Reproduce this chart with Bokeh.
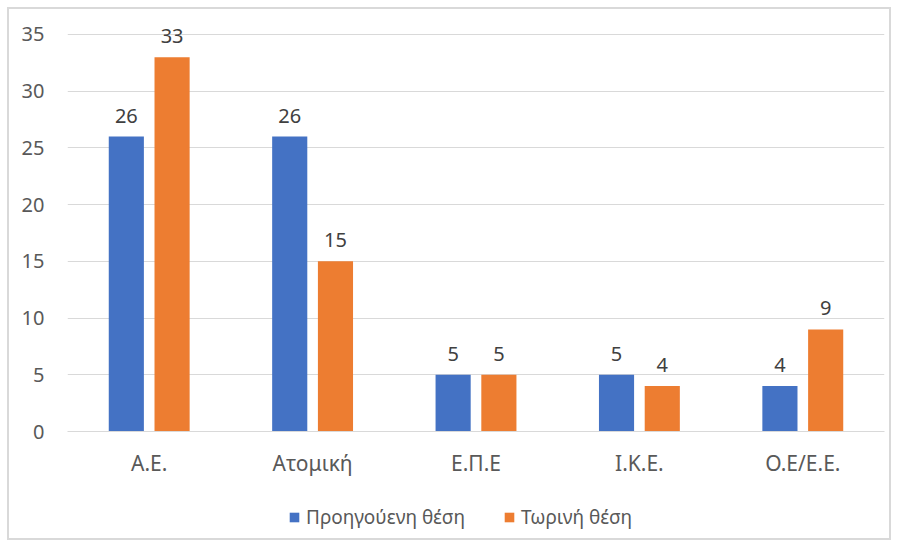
from bokeh.plotting import figure
from bokeh.models import ColumnDataSource, FactorRange, Range1d, Legend, LegendItem, LabelSet
from bokeh.layouts import column
from bokeh.core.properties import value
from bokeh.transform import dodge
from bokeh.embed import file_html
from bokeh.resources import INLINE

categories = ["Α.Ε.", "Ατομική", "Ε.Π.Ε", "Ι.Κ.Ε.", "Ο.Ε/Ε.Ε."]
previous = [26, 26, 5, 5, 4]
current = [33, 15, 5, 4, 9]
series_names = ["Προηγούενη θέση", "Τωρινή θέση"]
y_ticks = [0, 5, 10, 15, 20, 25, 30, 35]

BLUE = "#4472C4"
ORANGE = "#ED7D31"
TXT = "#595959"
FONT = "Noto Sans"

src = ColumnDataSource(dict(
    cat=categories,
    prev=previous,
    cur=current,
    prev_lbl=[str(v) for v in previous],
    cur_lbl=[str(v) for v in current],
))

xr = FactorRange(*categories, range_padding=0)

p = figure(
    x_range=xr,
    y_range=Range1d(0, 37.2),
    width=880, height=470,
    output_backend="svg", toolbar_location=None,
    min_border_left=58, min_border_right=5,
    min_border_top=0, min_border_bottom=45,
    outline_line_color=None,
)

r1 = p.vbar(x=dodge("cat", -0.14, range=xr), top="prev", width=0.215,
            source=src, color=BLUE, line_color=None)
r2 = p.vbar(x=dodge("cat", 0.14, range=xr), top="cur", width=0.215,
            source=src, color=ORANGE, line_color=None)

for col, lbl, off in (("prev", "prev_lbl", -0.14), ("cur", "cur_lbl", 0.14)):
    ls = LabelSet(x=dodge("cat", off, range=xr), y=col, text=lbl, source=src,
                  text_align="center", text_baseline="bottom", y_offset=14,
                  text_font=value(FONT), text_font_size="20px", text_color="#404040")
    p.add_layout(ls)

p.yaxis.ticker = y_ticks
p.yaxis.axis_line_color = None
p.yaxis.major_tick_line_color = None
p.yaxis.minor_tick_line_color = None
p.yaxis.major_label_text_font = FONT
p.yaxis.major_label_text_font_size = "20px"
p.yaxis.major_label_text_color = TXT
p.yaxis.major_label_standoff = 17

p.xaxis.axis_line_color = "#d9d9d9"
p.xaxis.axis_line_width = 1
p.xaxis.major_tick_line_color = None
p.xaxis.minor_tick_line_color = None
p.xaxis.major_label_text_font = FONT
p.xaxis.major_label_text_font_size = "21px"
p.xaxis.major_label_text_color = TXT
p.xaxis.major_label_standoff = 11

p.xgrid.grid_line_color = None
p.ygrid.grid_line_color = "#d9d9d9"
p.ygrid.grid_line_width = 1

# legend strip below the chart (hidden proxies that only supply legend swatches)
lp = figure(
    width=880, height=59,
    x_range=xr, y_range=Range1d(-2, -1),
    x_axis_type=None, y_axis_type=None,
    output_backend="svg", toolbar_location=None,
    min_border=0, outline_line_color=None,
)
g1 = lp.vbar(x=dodge("cat", -0.14, range=xr), top="prev", bottom="prev", width=0.215,
             source=src, color=BLUE, line_color=None)
g2 = lp.vbar(x=dodge("cat", 0.14, range=xr), top="cur", bottom="cur", width=0.215,
             source=src, color=ORANGE, line_color=None)
g1.visible = False
g2.visible = False
lp.xgrid.grid_line_color = None
lp.ygrid.grid_line_color = None

legend = Legend(
    items=[LegendItem(label=series_names[0], renderers=[g1]),
           LegendItem(label=series_names[1], renderers=[g2])],
    orientation="horizontal",
    location=(221, 8),
    glyph_width=12, glyph_height=12,
    label_standoff=6, spacing=38, padding=0, margin=0,
    label_text_font=FONT, label_text_font_size="19px", label_text_color=TXT,
    border_line_color=None, background_fill_alpha=0,
    click_policy="none",
)
lp.add_layout(legend, "center")

layout = column(p, lp, spacing=0)
layout.margin = (7, 7, 7, 7)
layout.styles = {"border": "2px solid #d9d9d9"}

open("out.html", "w").write(file_html(layout, INLINE))
